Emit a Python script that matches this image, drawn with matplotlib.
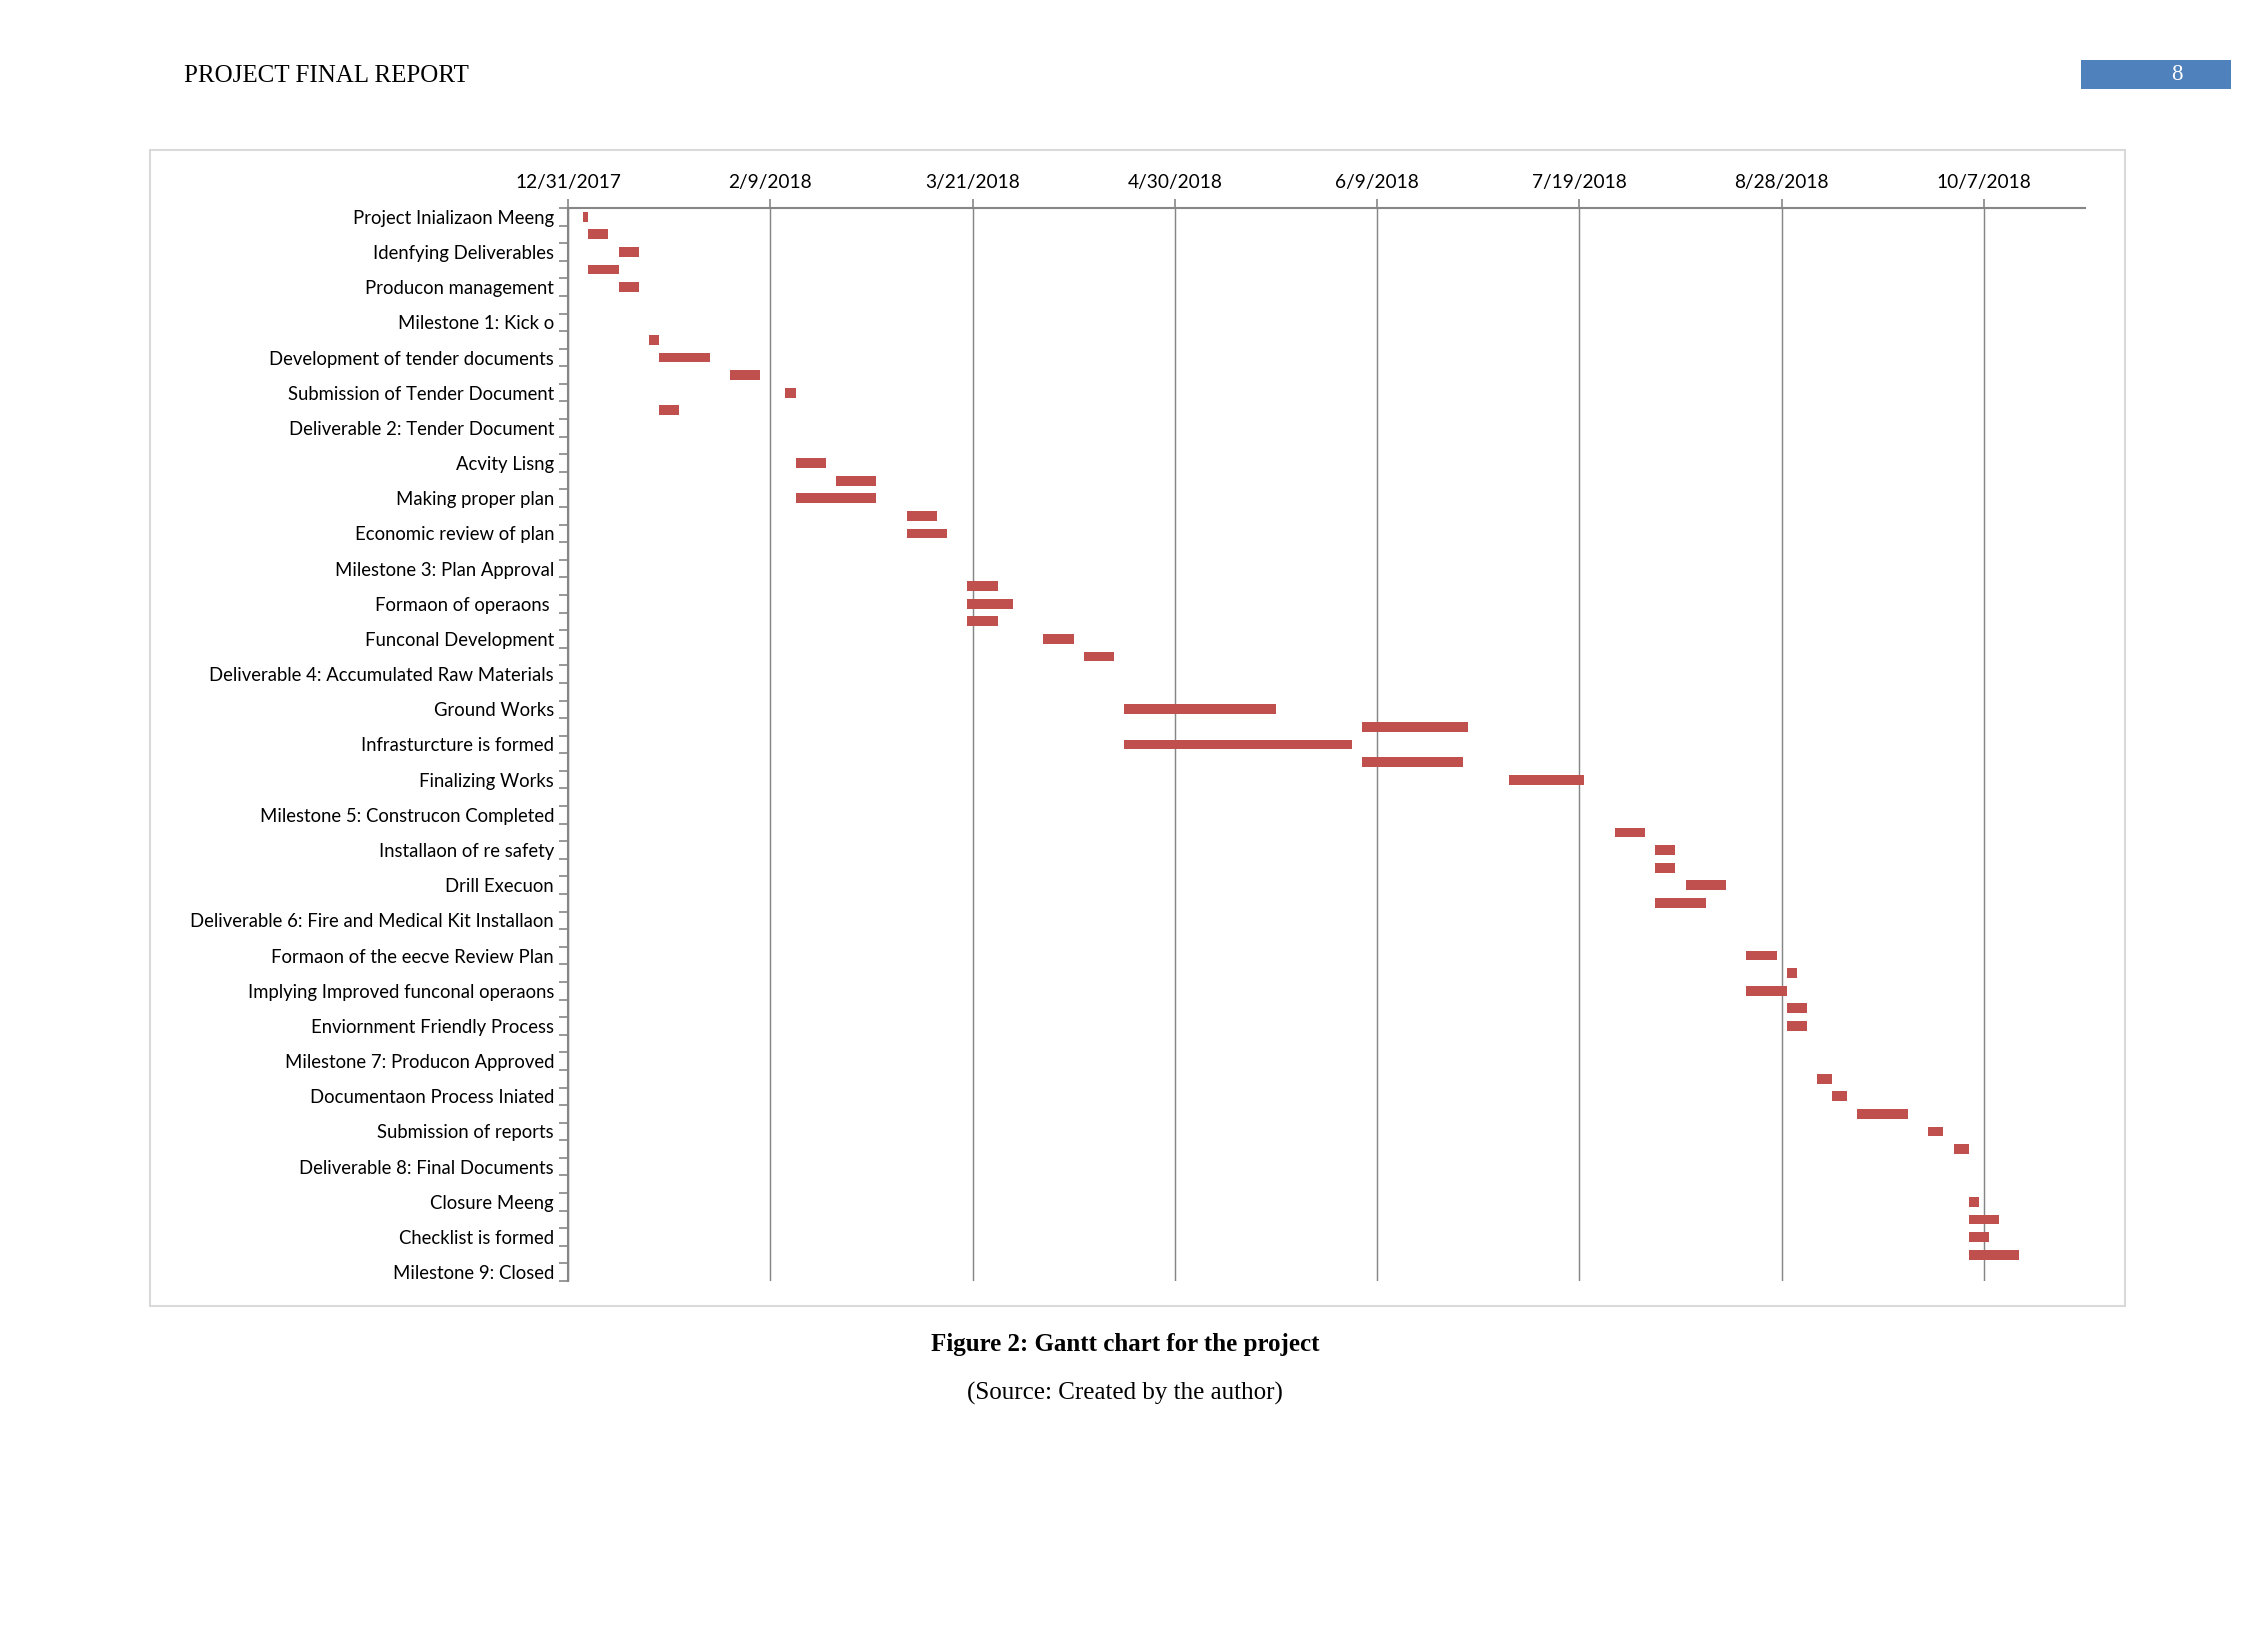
import matplotlib
matplotlib.use("Agg")
import matplotlib.pyplot as plt
import matplotlib.dates as mdates
from matplotlib.patches import Rectangle
from datetime import datetime
import numpy as np

plt.rcParams['font.family'] = ['Lato', 'DejaVu Sans']

# labels shown on the axis (every second category in the original chart)
labels = [
    "Project Inializaon Meeng", "Idenfying Deliverables", "Producon management",
    "Milestone 1: Kick o", "Development of tender documents", "Submission of Tender Document",
    "Deliverable 2: Tender Document", "Acvity Lisng", "Making proper plan",
    "Economic review of plan", "Milestone 3: Plan Approval", "Formaon of operaons ",
    "Funconal Development", "Deliverable 4: Accumulated Raw Materials", "Ground Works",
    "Infrasturcture is formed", "Finalizing Works", "Milestone 5: Construcon Completed",
    "Installaon of re safety", "Drill Execuon", "Deliverable 6: Fire and Medical Kit Installaon",
    "Formaon of the eecve Review Plan", "Implying Improved funconal operaons",
    "Enviornment Friendly Process", "Milestone 7: Producon Approved",
    "Documentaon Process Iniated", "Submission of reports", "Deliverable 8: Final Documents",
    "Closure Meeng", "Checklist is formed", "Milestone 9: Closed",
]

# one entry per category row (61 rows), None = no bar
starts = [
    "2018-01-03", "2018-01-04", "2018-01-10", "2018-01-04", "2018-01-10", None, None,
    "2018-01-16", "2018-01-18", "2018-02-01", "2018-02-12", "2018-01-18", None, None,
    "2018-02-14", "2018-02-22", "2018-02-14", "2018-03-08", "2018-03-08", None, None,
    "2018-03-20", "2018-03-20", "2018-03-20", "2018-04-04", "2018-04-12", None, None,
    "2018-04-20", "2018-06-06", "2018-04-20", "2018-06-06", "2018-07-05", None, None,
    "2018-07-26", "2018-08-03", "2018-08-03", "2018-08-09", "2018-08-03", None, None,
    "2018-08-21", "2018-08-29", "2018-08-21", "2018-08-29", "2018-08-29", None, None,
    "2018-09-04", "2018-09-07", "2018-09-12", "2018-09-26", "2018-10-01", None, None,
    "2018-10-04", "2018-10-04", "2018-10-04", "2018-10-04", None,
]
durations = [
    1, 4, 4, 6, 4, 0, 0,
    2, 10, 6, 2, 4, 0, 0,
    6, 8, 16, 6, 8, 0, 0,
    6, 9, 6, 6, 6, 0, 0,
    30, 21, 45, 20, 15, 0, 0,
    6, 4, 4, 8, 10, 0, 0,
    6, 2, 8, 4, 4, 0, 0,
    3, 3, 10, 3, 3, 0, 0,
    2, 6, 4, 10, 0,
]

tick_labels = ["12/31/2017", "2/9/2018", "3/21/2018", "4/30/2018",
               "6/9/2018", "7/19/2018", "8/28/2018", "10/7/2018"]
x_end = "2018-10-27"

W, H = 2250, 1650
fig = plt.figure(figsize=(15, 11), dpi=150)

# page header
fig.text(184 / W, 1 - 76 / H, "PROJECT FINAL REPORT", family="Liberation Serif",
         fontsize=12, ha="left", va="center")
fig.patches.append(Rectangle((2081 / W, 1 - 89 / H), 150 / W, 29 / H,
                             transform=fig.transFigure, facecolor="#4F81BD", edgecolor="none"))
fig.text(2177 / W, 1 - 75 / H, "8", family="Liberation Serif", fontsize=11,
         color="white", ha="center", va="center")

# chart frame
fig.patches.append(Rectangle((150 / W, 1 - 1306 / H), 1975 / W, 1156 / H,
                             transform=fig.transFigure, fill=False,
                             edgecolor="#D9D9D9", lw=1))

ax = fig.add_axes([568 / W, 1 - 1281 / H, (2085 - 568) / W, (1281 - 208) / H])

rows = np.arange(len(starts))
for i, (s, d) in enumerate(zip(starts, durations)):
    if s is None:
        continue
    left = mdates.date2num(datetime.strptime(s, "%Y-%m-%d"))
    ax.barh(i, d, left=left, height=0.556, color="#C0504D")

tick_dates = [mdates.date2num(datetime.strptime(t, "%m/%d/%Y")) for t in tick_labels]
ax.set_xlim(tick_dates[0], mdates.date2num(datetime.strptime(x_end, "%Y-%m-%d")))
ax.set_ylim(len(starts) - 0.5, -0.5)

grey = "#868686"
ax.xaxis.tick_top()
ax.set_xticks(tick_dates)
ax.set_xticklabels(tick_labels, fontsize=9.2)
ax.tick_params(axis="x", which="major", length=4.5, width=0.8, color=grey, pad=3.5)
ax.grid(axis="x", color=grey, lw=0.7)
ax.set_axisbelow(True)

ax.set_yticks(rows[::2])
ax.set_yticklabels(labels, fontsize=8.9)
ax.set_yticks(np.arange(-0.5, len(starts), 1), minor=True)
ax.tick_params(axis="y", which="major", length=0, pad=6.7)
ax.tick_params(axis="y", which="minor", length=4.5, width=0.8, color=grey)

for side in ["right", "bottom"]:
    ax.spines[side].set_visible(False)
ax.spines["top"].set_color(grey)
ax.spines["top"].set_linewidth(1.0)
ax.spines["left"].set_color(grey)
ax.spines["left"].set_linewidth(1.0)

# caption
fig.text(0.5, 1 - 1344 / H, "Figure 2: Gantt chart for the project", family="Liberation Serif",
         fontsize=12, fontweight="bold", ha="center", va="center")
fig.text(0.5, 1 - 1393 / H, "(Source: Created by the author)", family="Liberation Serif",
         fontsize=12, ha="center", va="center")

fig.savefig("out.png", dpi=150, facecolor="white")
